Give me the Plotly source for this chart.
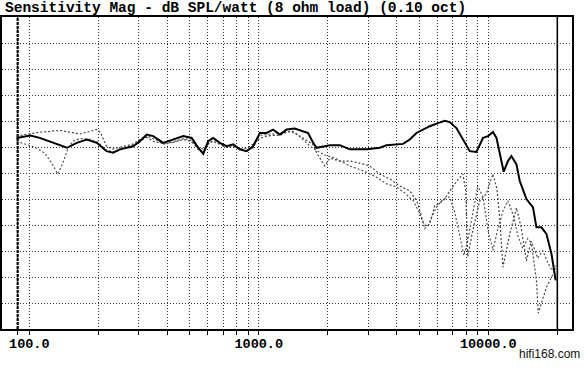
import plotly.graph_objects as go

# ---------------- data ----------------
freq_on = [88, 101, 111, 127, 146, 161, 178, 197, 217, 232, 248, 284, 303, 325, 347, 383, 424, 469, 510,
           545, 573, 602, 633, 677, 724, 774, 827, 885, 945, 1011, 1081, 1155, 1236, 1322, 1436, 1561,
           1641, 1726, 1785, 2040, 2256, 2494, 2949, 3369, 3603, 4256, 4550, 4868, 5563, 6045, 6465,
           6795, 7267, 7765, 8305, 8884, 9184, 9493, 9980, 10490, 10860, 11220, 11680, 12190, 12620,
           13270, 13720, 14670, 15670, 16220, 17050, 17930, 18860, 19680]
db_on = [86.75, 87.2, 86.75, 85.8, 84.85, 85.8, 86.45, 85.8, 84.2, 83.9, 84.55, 85.15, 86.1, 87.4, 87.1,
         85.8, 86.45, 87.1, 86.75, 84.85, 83.7, 86.1, 86.75, 85.8, 85.15, 85.5, 84.55, 84.2, 85.15, 87.7,
         87.7, 88.35, 87.4, 88.35, 88.55, 88.0, 87.7, 85.8, 84.85, 85.35, 85.35, 84.55, 84.55, 84.85,
         85.35, 85.6, 86.45, 87.7, 89.0, 89.6, 90.05, 89.8, 88.65, 86.45, 84.2, 84.05, 85.5, 86.75, 87.1,
         87.9, 86.75, 83.55, 80.25, 82.3, 83.25, 81.65, 78.45, 75.0, 73.4, 69.55, 69.55, 68.3, 64.45, 59.35]

freq_off_a = [88, 101, 111, 123, 136, 150, 166, 184, 198, 205, 217, 231, 248, 283, 303, 326, 346, 381, 424,
              469, 506, 542, 573, 602, 632, 677, 727, 772, 827, 888, 943, 1011, 1083, 1150, 1236, 1324,
              1408, 1510, 1636, 1720, 1790, 1879, 1941, 2040, 2256, 2494, 2756, 3047, 3369, 3724, 4117,
              4550, 4880, 5080, 5290, 5563, 5848, 6360, 6795, 7290, 7750, 7980, 8140, 8560, 9184, 9810,
              10470, 10900, 11220, 11590, 12410, 13270, 13870, 14670, 15380, 16220, 16520, 17930, 19680]
db_off_a = [87.1, 87.5, 87.85, 88.0, 88.2, 87.85, 87.5, 88.0, 88.4, 87.6, 85.15, 84.6, 84.95, 85.55, 86.45,
            86.85, 86.1, 85.7, 85.9, 86.45, 86.1, 84.95, 84.6, 85.7, 86.1, 85.55, 84.95, 85.15, 84.6, 84.8,
            85.55, 86.65, 87.1, 87.25, 87.25, 87.85, 88.0, 87.1, 86.1, 85.55, 83.8, 82.3, 81.35, 82.85,
            82.3, 82.3, 81.9, 81.35, 79.8, 78.85, 77.5, 76.55, 74.65, 72.2, 69.3, 70.25, 73.7, 74.65,
            76.55, 78.45, 79.8, 76.55, 63.9, 68.9, 74.65, 76.0, 79.8, 77.1, 71.4, 61.9, 68.3, 73.3, 69.8,
            63.1, 66.9, 59.35, 53.05, 58.0, 61.65]

freq_off_b = [88, 96, 106, 117, 126, 133, 140, 147, 155, 166, 184, 199, 217, 236, 261, 303, 326, 354, 389,
              432, 474, 511, 542, 573, 612, 643, 710, 787, 869, 943, 1011, 1116, 1236, 1367, 1464, 1556,
              1670, 1810, 1941, 2150, 2494, 2860, 3250, 3610, 3990, 4330, 4720, 5000, 5240, 5460, 5700,
              6000, 6360, 6795, 7150, 7510, 7830, 8140, 8630, 9000, 9490, 9980, 10490, 10900, 11600,
              12190, 12880, 13440, 14140, 14870, 15670, 16430, 17280, 18160, 19000, 19680]
db_off_b = [86.1, 85.55, 84.95, 83.8, 81.7, 79.8, 81.9, 84.6, 86.1, 86.65, 86.45, 85.9, 84.4, 84.0, 84.8,
            85.9, 87.1, 86.45, 85.5, 86.1, 86.65, 86.25, 84.6, 84.0, 85.9, 86.25, 85.35, 84.95, 84.2, 84.8,
            87.25, 87.45, 87.6, 88.0, 87.45, 86.45, 85.15, 84.2, 83.45, 82.85, 81.35, 80.4, 79.25, 77.9,
            77.3, 76.15, 74.65, 72.4, 70.25, 69.7, 71.8, 73.7, 75.0, 75.4, 72.4, 68.0, 64.1, 67.0, 72.75,
            77.5, 75.4, 68.9, 65.1, 68.5, 72.75, 74.65, 71.8, 68.0, 65.5, 67.4, 66.1, 63.6, 65.1, 62.8,
            61.25, 62.2]

grid_freqs = [89, 100, 200, 300, 400, 500, 600, 700, 800, 900, 1000, 2000, 3000, 4000, 5000, 6000,
              7000, 8000, 9000, 10000, 20000]
label_freqs = {100: "100.0", 1000: "1000.0", 10000: "10000.0"}
db_grid = [55, 60, 65, 70, 75, 80, 85, 90, 95, 100, 105]
db_range = [50, 110]

title_text = "Sensitivity Mag - dB SPL/watt (8 ohm load) (0.10 oct)"
watermark = "hifi168.com"

# ---------------- figure ----------------
fig = go.Figure()

# heavy marker line near 90 Hz and solid 20 kHz line
fig.add_trace(go.Scatter(x=[89, 89], y=db_range, mode="lines",
                         line=dict(color="black", width=2.2, dash="3px,1px"), hoverinfo="skip"))
fig.add_trace(go.Scatter(x=[20000, 20000], y=db_range, mode="lines",
                         line=dict(color="black", width=1.6), hoverinfo="skip"))

fig.add_trace(go.Scatter(x=freq_off_b, y=db_off_b, mode="lines",
                         line=dict(color="#555555", width=1.2, dash="2px,2px"), hoverinfo="skip"))
fig.add_trace(go.Scatter(x=freq_off_a, y=db_off_a, mode="lines",
                         line=dict(color="#444444", width=1.2, dash="2px,2px"), hoverinfo="skip"))
fig.add_trace(go.Scatter(x=freq_on, y=db_on, mode="lines",
                         line=dict(color="black", width=2), hoverinfo="skip"))

mono = dict(family="Liberation Mono, Courier New, monospace", color="black", weight="bold")

fig.update_layout(
    width=588, height=368,
    margin=dict(l=2, r=16, t=17, b=39),
    paper_bgcolor="white", plot_bgcolor="white",
    showlegend=False,
    xaxis=dict(
        type="log",
        range=[1.8811, 4.365],
        tickmode="array",
        tickvals=grid_freqs,
        ticktext=[label_freqs.get(f, "") for f in grid_freqs],
        ticks="outside", ticklen=4, tickcolor="black", tickwidth=1,
        ticklabelstandoff=-3,
        tickfont=dict(size=13.5, **mono),
        showgrid=True, gridcolor="#333333", gridwidth=1, griddash="1px,2px",
        showline=True, linecolor="black", linewidth=1.6, mirror=True,
        zeroline=False,
    ),
    yaxis=dict(
        range=db_range,
        tickmode="array",
        tickvals=db_grid,
        showticklabels=False,
        ticks="",
        showgrid=True, gridcolor="#333333", gridwidth=1, griddash="1px,2px",
        showline=True, linecolor="black", linewidth=1.6, mirror=True,
        zeroline=False,
    ),
)

fig.add_annotation(text=title_text, xref="paper", yref="paper",
                   x=0.0015, y=(329 - 8) / 312, xanchor="left", yanchor="middle",
                   showarrow=False, font=dict(size=14.5, **mono))
fig.add_annotation(text=watermark, xref="paper", yref="paper",
                   x=(582 - 2) / 570.3, y=(329 - 354) / 312, xanchor="right", yanchor="middle",
                   showarrow=False,
                   font=dict(family="Liberation Sans, Arial", size=12, color="#111111"))

fig.write_html("out.html")
